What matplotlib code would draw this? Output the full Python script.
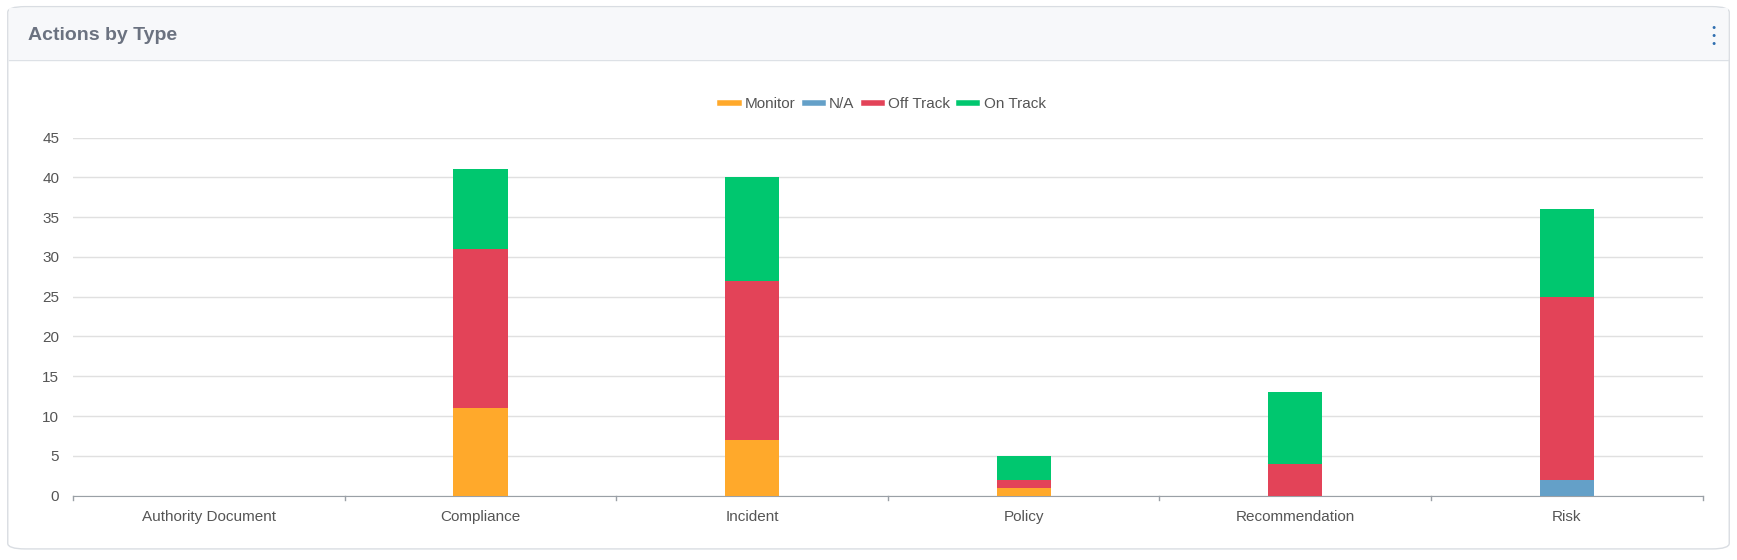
import numpy as np
import matplotlib.pyplot as plt
from matplotlib.patches import FancyBboxPatch, Rectangle

# Data
categories = ["Authority Document", "Compliance", "Incident", "Policy", "Recommendation", "Risk"]
monitor = [0, 11, 7, 1, 0, 0]
na = [0, 0, 0, 0, 0, 2]
off_track = [0, 20, 20, 1, 4, 23]
on_track = [0, 10, 13, 3, 9, 11]

series = [("Monitor", monitor, "#ffa92b"),
          ("N/A", na, "#64a0c8"),
          ("Off Track", off_track, "#e34358"),
          ("On Track", on_track, "#00c76f")]

plt.rcParams['font.family'] = ['Liberation Sans', 'DejaVu Sans']

fig = plt.figure(figsize=(17.37, 5.6), dpi=100)
W, H = 1568, 505

# card and header (behind the axes)
card = FancyBboxPatch((7 / W, 1 - 495 / H), 1554 / W, 489 / H,
                      boxstyle="round,pad=0,rounding_size=0.01",
                      transform=fig.transFigure, facecolor="white",
                      edgecolor="#d9dde2", linewidth=1, zorder=-2)
fig.patches.append(card)
fig.patches.append(Rectangle((8 / W, 1 - 54 / H), 1552 / W, 47 / H,
                             transform=fig.transFigure, facecolor="#f7f8fa",
                             edgecolor="none", zorder=-1))
fig.lines.append(plt.Line2D([8 / W, 1560 / W], [1 - 54 / H] * 2,
                            transform=fig.transFigure, color="#dde1e6", lw=1, zorder=-1))
fig.text(25 / W, 1 - 32 / H, "Actions by Type", fontsize=14, fontweight="bold",
         color="#6b7280", va="center")
for dy in (-7, 0, 7):
    fig.text(1547 / W, 1 - (32 + dy) / H, "●", fontsize=5, color="#2f6fb0",
             ha="center", va="center")

ax = fig.add_axes([66 / W, 1 - 447 / H, 1471 / W, 323 / H], zorder=2)
ax.patch.set_alpha(0)
x = np.arange(len(categories))
bottom = np.zeros(len(categories))
handles = []
for name, vals, col in series:
    vals = np.array(vals, dtype=float)
    ax.bar(x, vals, width=0.2, bottom=bottom, color=col, zorder=3)
    bottom += vals
    handles.append(plt.Line2D([], [], color=col, lw=4, label=name))

ax.set_xlim(-0.5, len(categories) - 0.5)
ax.set_ylim(0, 45)
ax.set_yticks(range(0, 46, 5))
ax.set_xticks(x)
ax.set_xticklabels(categories)
ax.grid(axis="y", color="#e0e0e0", lw=1, zorder=0)
for s in ("top", "right", "left"):
    ax.spines[s].set_visible(False)
ax.spines["bottom"].set_color("#9aa0a6")
ax.tick_params(axis="y", length=0, labelsize=11, colors="#555555", pad=10)
ax.tick_params(axis="x", length=0, labelsize=11, colors="#555555", pad=10)
# category separator ticks
for b in np.arange(-0.5, len(categories), 1.0):
    ax.plot([b, b], [0, -0.6], color="#9aa0a6", lw=1, clip_on=False)

fig.legend(handles=handles, loc="center", bbox_to_anchor=(797 / W, 1 - 94 / H),
           ncol=4, frameon=False, fontsize=11, handlelength=1.2,
           handletextpad=0.4, columnspacing=0.6, labelcolor="#555555")

fig.savefig("out.png", dpi=100)
